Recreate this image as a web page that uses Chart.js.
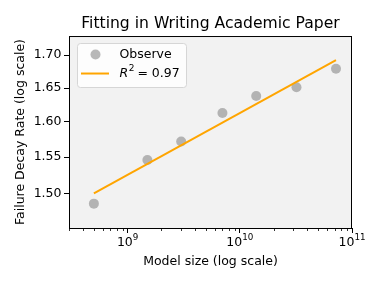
<!DOCTYPE html>
<html>
<head>
<meta charset="utf-8">
<script src="https://cdn.jsdelivr.net/npm/chart.js@4.4.1/dist/chart.umd.min.js"></script>
<style>
  html, body { margin: 0; padding: 0; background: #fff; }
</style>
</head>
<body>
<canvas id="fitgraph" width="382" height="287"></canvas>
<script>
// values
const modelSize = [5e8, 1.5e9, 3e9, 7e9, 1.4e10, 3.2e10, 7.2e10]
const decayRate = [1.486, 1.546, 1.572, 1.613, 1.638, 1.651, 1.679]
const fitX = [5e8, 7.2e10]
const fitY = [1.500, 1.692]
const yTicks = [1.50, 1.55, 1.60, 1.65, 1.70]
const xTicks = [1e9, 1e10, 1e11]
const xTickExp = ['9', '10', '11']
const xMinorTicks = [3e8, 4e8, 5e8, 6e8, 7e8, 8e8, 9e8,
  2e9, 3e9, 4e9, 5e9, 6e9, 7e9, 8e9, 9e9,
  2e10, 3e10, 4e10, 5e10, 6e10, 7e10, 8e10, 9e10]

const FONT = 'DejaVu Sans'
Chart.defaults.font.family = FONT
Chart.defaults.color = '#000'

const framePlugin = {
  id: 'frame',
  beforeDatasetsDraw(chart) {
    const {ctx, chartArea: a} = chart
    ctx.save()
    ctx.fillStyle = '#f2f2f2'
    ctx.fillRect(a.left, a.top, a.right - a.left, a.bottom - a.top)
    ctx.restore()
  },
  afterDraw(chart) {
    const {ctx, chartArea: a} = chart
    const x = chart.scales.x
    ctx.save()
    ctx.strokeStyle = '#000'
    ctx.lineWidth = 1
    ctx.strokeRect(a.left + 0.5, a.top + 0.5, a.right - a.left - 1, a.bottom - a.top)
    // minor ticks on the log axis
    ctx.lineWidth = 0.8
    xMinorTicks.forEach(v => {
      const px = Math.round(x.getPixelForValue(v)) + 0.5
      ctx.beginPath()
      ctx.moveTo(px, a.bottom)
      ctx.lineTo(px, a.bottom + 3)
      ctx.stroke()
    })
    // decade labels as 10 with a raised exponent
    ctx.fillStyle = '#000'
    ctx.textBaseline = 'alphabetic'
    ctx.textAlign = 'left'
    const base = a.bottom + 17.5
    xTicks.forEach((v, i) => {
      ctx.font = '12.5px ' + FONT
      const w1 = ctx.measureText('10').width
      ctx.font = '8.75px ' + FONT
      const w2 = ctx.measureText(xTickExp[i]).width
      const left = x.getPixelForValue(v) - (w1 + w2) / 2
      ctx.font = '12.5px ' + FONT
      ctx.fillText('10', left, base)
      ctx.font = '8.75px ' + FONT
      ctx.fillText(xTickExp[i], left + w1, base - 6)
    })
    drawLegend(chart)
    ctx.restore()
  }
}

function drawLegend(chart) {
  const {ctx, chartArea: a} = chart
  const left = a.left + 8, top = a.top + 7, w = 109, h = 44
  ctx.save()
  ctx.beginPath()
  ctx.roundRect(left + 0.5, top + 0.5, w, h, 3)
  ctx.fillStyle = 'rgba(255,255,255,0.8)'
  ctx.fill()
  ctx.strokeStyle = '#d6d6d6'
  ctx.lineWidth = 1
  ctx.stroke()

  const row1 = top + 11.5, row2 = top + 30.5, textX = left + 42.5
  ctx.beginPath()
  ctx.arc(left + 18.5, row1, 5, 0, Math.PI * 2)
  ctx.fillStyle = 'rgba(128,128,128,0.55)'
  ctx.fill()

  ctx.beginPath()
  ctx.moveTo(left + 4, row2)
  ctx.lineTo(left + 32, row2)
  ctx.strokeStyle = '#ffa500'
  ctx.lineWidth = 2
  ctx.stroke()

  ctx.fillStyle = '#000'
  ctx.textBaseline = 'middle'
  ctx.textAlign = 'left'
  ctx.font = '12.5px ' + FONT
  ctx.fillText('Observe', textX, row1)

  let x = textX
  ctx.font = 'italic 12.5px ' + FONT
  ctx.fillText('R', x, row2)
  x += ctx.measureText('R').width + 0.5
  ctx.font = '9px ' + FONT
  ctx.fillText('2', x, row2 - 5)
  x += ctx.measureText('2').width + 3
  ctx.font = '12.5px ' + FONT
  ctx.fillText('= 0.97', x, row2)
  ctx.restore()
}

new Chart(document.getElementById('fitgraph'), {
  type: 'scatter',
  plugins: [framePlugin],
  data: {
    datasets: [
      {
        label: 'Observe',
        data: modelSize.map((v, i) => ({x: v, y: decayRate[i]})),
        pointRadius: 5,
        pointHoverRadius: 5,
        backgroundColor: 'rgba(128,128,128,0.55)',
        borderWidth: 0,
        order: 1
      },
      {
        type: 'line',
        label: 'R² = 0.97',
        data: fitX.map((v, i) => ({x: v, y: fitY[i]})),
        borderColor: '#ffa500',
        borderWidth: 2,
        pointRadius: 0,
        fill: false,
        order: 0
      }
    ]
  },
  options: {
    responsive: false,
    devicePixelRatio: 1,
    animation: false,
    layout: {padding: {left: 0, right: 30, top: 0, bottom: 0}},
    plugins: {
      legend: {display: false},
      tooltip: {enabled: false},
      title: {
        display: true,
        fullSize: false,
        text: 'Fitting in Writing Academic Paper',
        color: '#000',
        font: {size: 15.6, weight: 'normal'},
        padding: {top: 15, bottom: 2.3}
      }
    },
    scales: {
      x: {
        type: 'logarithmic',
        bounds: 'data',
        min: 3e8,
        max: 1e11,
        afterBuildTicks: s => { s.ticks = xTicks.map(v => ({value: v})) },
        afterFit: s => { s.height = 59 },
        ticks: {
          autoSkip: false,
          maxRotation: 0,
          padding: 3,
          font: {size: 12.5},
          callback: () => ''
        },
        grid: {drawOnChartArea: false, tickLength: 5, tickColor: '#000', tickWidth: 1},
        border: {color: '#000'},
        title: {
          display: true,
          text: 'Model size (log scale)',
          font: {size: 12.5},
          padding: {top: 0, bottom: 18}
        }
      },
      y: {
        type: 'logarithmic',
        bounds: 'data',
        min: 1.4536,
        max: 1.7295,
        afterBuildTicks: s => { s.ticks = yTicks.map(v => ({value: v})) },
        afterFit: s => { s.width = 69 },
        ticks: {
          autoSkip: false,
          padding: 2.5,
          font: {size: 12.5},
          callback: (v) => Number(v).toFixed(2)
        },
        grid: {drawOnChartArea: false, tickLength: 5, tickColor: '#000', tickWidth: 1},
        border: {color: '#000'},
        title: {
          display: true,
          text: 'Failure Decay Rate (log scale)',
          font: {size: 12.5},
          padding: {top: 13, bottom: 0}
        }
      }
    }
  }
})
</script>
</body>
</html>
